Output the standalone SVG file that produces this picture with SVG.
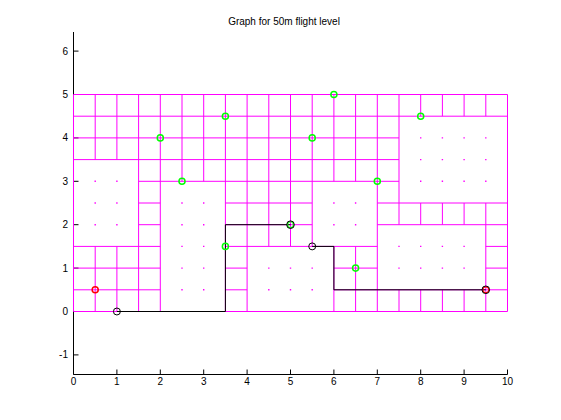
<svg xmlns="http://www.w3.org/2000/svg" width="561" height="420" viewBox="0 0 561 420">
<style>
text{font-family:"Liberation Sans",Arial,sans-serif;font-size:10px;fill:#000}
.ax{stroke:#000;stroke-width:1;fill:none}
.grid{stroke:#f0f;stroke-width:1;fill:none;vector-effect:non-scaling-stroke}
.dots{stroke:#f0f;stroke-width:1.4;stroke-linecap:square;fill:none;vector-effect:non-scaling-stroke}
.route{stroke:#000;stroke-width:1;fill:none;vector-effect:non-scaling-stroke}
.g{stroke:#0f0;stroke-width:1.5;fill:none;vector-effect:non-scaling-stroke}
.r{stroke:#f00;stroke-width:1.5;fill:none;vector-effect:non-scaling-stroke}
.in{stroke-width:1.1}
.k{stroke:#000;stroke-width:1;fill:none;vector-effect:non-scaling-stroke}
</style>
<rect width="561" height="420" fill="#fff"/>
<text x="284" y="24.5" text-anchor="middle">Graph for 50m flight level</text>
<g id="axes">
<path class="ax" d="M73.5 32V374.5H507.5"/>
<path class="ax" d="M73.5 354.9h5M73.5 311.5h5M73.5 268.1h5M73.5 224.7h5M73.5 181.3h5M73.5 137.9h5M73.5 94.5h5M73.5 51.1h5"/>
<path class="ax" d="M73.5 374.5v-5M116.9 374.5v-5M160.3 374.5v-5M203.7 374.5v-5M247.1 374.5v-5M290.5 374.5v-5M333.9 374.5v-5M377.3 374.5v-5M420.7 374.5v-5M464.1 374.5v-5M507.5 374.5v-5"/>
<g text-anchor="end">
<text x="68" y="358.4">-1</text>
<text x="68" y="315">0</text>
<text x="68" y="271.6">1</text>
<text x="68" y="228.2">2</text>
<text x="68" y="184.8">3</text>
<text x="68" y="141.4">4</text>
<text x="68" y="98">5</text>
<text x="68" y="54.6">6</text>
</g>
<g text-anchor="middle">
<text x="73.5" y="384.5">0</text>
<text x="116.9" y="384.5">1</text>
<text x="160.3" y="384.5">2</text>
<text x="203.7" y="384.5">3</text>
<text x="247.1" y="384.5">4</text>
<text x="290.5" y="384.5">5</text>
<text x="333.9" y="384.5">6</text>
<text x="377.3" y="384.5">7</text>
<text x="420.7" y="384.5">8</text>
<text x="464.1" y="384.5">9</text>
<text x="507.5" y="384.5">10</text>
</g>
</g>
<g transform="translate(73.5 311.5) scale(43.4 -43.4)">
<g id="connectors">
<path class="grid" d="M0 0H10M0 .5H2M3.5 .5H4M6 .5H10M0 1H2M3.5 1H4M6 1H7M9.5 1H10M0 1.5H2M3.5 1.5H7M9.5 1.5H10M1.5 2H2M3.5 2H5.5M7 2H10M1.5 2.5H2M3.5 2.5H5.5M7 2.5H10M1.5 3H7.5M0 3.5H7.5M0 4H7.5M0 4.5H10M0 5H10"/>
<path class="grid" d="M0 0V5M.5 0V1.5M.5 3.5V5M1 0V1.5M1 3.5V5M1.5 0V5M2 0V5M2.5 3V5M3 3V5M3.5 0V5M4 0V5M4.5 1.5V5M5 1.5V5M5.5 1.5V5M6 0V1.5M6 3V5M6.5 0V1.5M6.5 3V5M7 0V5M7.5 0V.5M7.5 2V5M8 0V.5M8 2V2.5M8 4.5V5M8.5 0V.5M8.5 2V2.5M8.5 4.5V5M9 0V.5M9 2V2.5M9 4.5V5M9.5 0V2.5M9.5 4.5V5M10 0V5"/>
<path class="dots" d="M.5 2h0M.5 2.5h0M.5 3h0M1 2h0M1 2.5h0M1 3h0M2.5 .5h0M2.5 1h0M2.5 1.5h0M2.5 2h0M2.5 2.5h0M3 .5h0M3 1h0M3 1.5h0M3 2h0M3 2.5h0M8 3h0M8 3.5h0M8 4h0M8.5 3h0M8.5 3.5h0M8.5 4h0M9 3h0M9 3.5h0M9 4h0M9.5 3h0M9.5 3.5h0M9.5 4h0M4.5 .5h0M4.5 1h0M5 .5h0M5 1h0M5.5 .5h0M5.5 1h0M6 2h0M6 2.5h0M6.5 2h0M6.5 2.5h0M7.5 1h0M7.5 1.5h0M8 1h0M8 1.5h0M8.5 1h0M8.5 1.5h0M9 1h0M9 1.5h0"/>
<path id="route" class="route" d="M1 0H3.5V2H5M5.5 1.5H6V.5H9.5"/>
</g>
<g id="waypoints">
<circle class="g" cx="2" cy="4" r="0.07"/>
<circle class="g" cx="2.5" cy="3" r="0.07"/>
<circle class="g" cx="3.5" cy="4.5" r="0.07"/>
<circle class="g" cx="3.5" cy="1.5" r="0.07"/>
<circle class="g" cx="5.5" cy="4" r="0.07"/>
<circle class="g" cx="6" cy="5" r="0.07"/>
<circle class="g" cx="7" cy="3" r="0.07"/>
<circle class="g" cx="8" cy="4.5" r="0.07"/>
<circle class="g" cx="6.5" cy="1" r="0.07"/>
<circle class="g in" cx="5" cy="2" r="0.068"/>
</g>
<g id="endpoints">
<circle class="r" cx="0.5" cy="0.5" r="0.07"/>
<circle class="r in" cx="9.5" cy="0.5" r="0.068"/>
</g>
<g id="path-nodes">
<circle class="k" cx="1" cy="0" r="0.08"/>
<circle class="k" cx="5" cy="2" r="0.088"/>
<circle class="k" cx="5.5" cy="1.5" r="0.08"/>
<circle class="k" cx="9.5" cy="0.5" r="0.088"/>
</g>
</g>
</svg>
